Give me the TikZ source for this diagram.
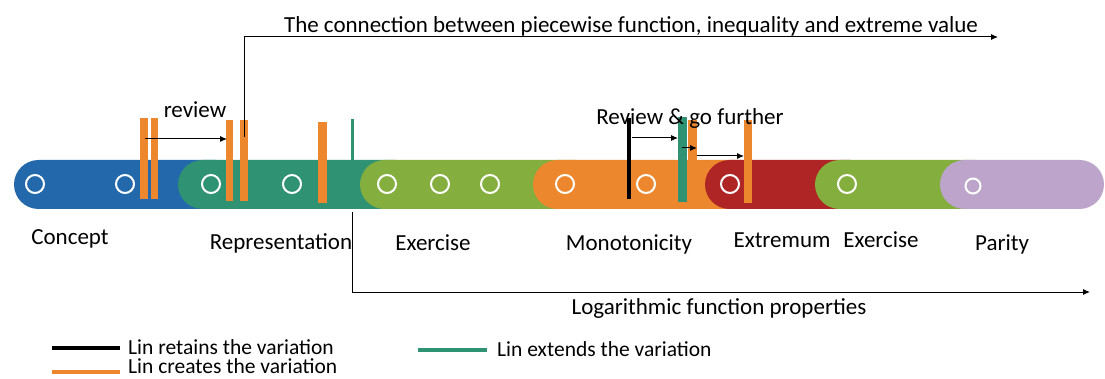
\documentclass[tikz,border=0pt]{standalone}
\usepackage{fontspec}
\setmainfont{Carlito}
\usetikzlibrary{arrows.meta}
\definecolor{cblue}{RGB}{35,104,170}
\definecolor{cteal}{RGB}{46,146,115}
\definecolor{cgreen}{RGB}{132,174,62}
\definecolor{corange}{RGB}{237,135,46}
\definecolor{cred}{RGB}{175,36,36}
\definecolor{cpurple}{RGB}{188,164,202}
\tikzset{
  pill/.style={rounded corners=24.5pt},
  dot/.style={circle, draw=white, line width=2pt, minimum size=18pt, inner sep=0pt},
  lab/.style={font=\fontsize{23}{26}\selectfont, inner sep=0pt},
  leg/.style={font=\fontsize{21.5}{24}\selectfont, inner sep=0pt, anchor=west},
  obar/.style={fill=corange},
  arr/.style={-{Latex[length=7pt,width=6pt]}, line width=1pt},
  link/.style={line width=1pt},
}
\begin{document}
\begin{tikzpicture}[x=1pt,y=-1pt]
\useasboundingbox (0,0) rectangle (1105,379);
% pills
\fill[pill,cblue]   (14,160) rectangle (240,209);
\fill[pill,cteal]   (178,160) rectangle (420,209);
\fill[pill,cgreen]  (360,160) rectangle (600,209);
\fill[pill,corange] (533,160) rectangle (765,209);
\fill[pill,cred]    (705,160) rectangle (875,209);
\fill[pill,cgreen]  (815,160) rectangle (1000,209);
\fill[pill,cpurple] (940,160) rectangle (1104,209);
% circles
\foreach \n/\x in {c1/35,c2/125,c3/211,c4/292,c5/387,c6/440,c7/490,c8/565,c9/646,c10/730,c11/847}
  \node[dot] (\n) at (\x,184) {};
\node[dot, minimum size=15pt] (c12) at (973,186) {};
% bars
\fill[obar] (140,118) rectangle (148,199);
\fill[obar] (151,118) rectangle (158,199);
\fill[obar] (226,120) rectangle (233,201);
\fill[obar] (240,120) rectangle (248,201);
\fill[obar] (318,122) rectangle (327,203);
\fill[cteal] (350.5,119) rectangle (353.5,165);
\fill[black] (626.5,118) rectangle (630.5,199);
\fill[cteal] (678,117) rectangle (687,202);
\fill[obar] (688,120) rectangle (697,165);
\fill[obar] (744,120) rectangle (752,203);
% top connection arrow
\coordinate (t0) at (244,137);
\coordinate (t1) at (244,37);
\coordinate (t2) at (998,37);
\draw[link] (t0) -- (t1);
\draw[arr] (t1) -- (t2);
\node[lab] (ttop) at (631,26) {The connection between piecewise function, inequality and extreme value};
% bottom arrow
\coordinate (b0) at (352,212);
\coordinate (b1) at (352,292);
\coordinate (b2) at (1090,292);
\draw[link] (b0) -- (b1);
\draw[arr] (b1) -- (b2);
\node[lab] (tbot) at (719,308) {Logarithmic function properties};
% review arrows
\coordinate (r0) at (145,139);
\coordinate (r1) at (227,139);
\draw[arr] (r0) -- (r1);
\node[lab] (trev) at (195,110) {review};
\coordinate (g0) at (632,138);
\coordinate (g1) at (678,138);
\draw[arr] (g0) -- (g1);
\coordinate (g2) at (682,148);
\coordinate (g3) at (697,148);
\draw[arr] (g2) -- (g3);
\coordinate (g4) at (697,156);
\coordinate (g5) at (744,156);
\draw[arr] (g4) -- (g5);
\node[lab] (tgo) at (690,118) {Review \& go further};
% labels
\node[lab] (l1) at (70,239) {Concept};
\node[lab] (l2) at (281,243) {Representation};
\node[lab] (l3) at (433,243) {Exercise};
\node[lab] (l4) at (629,244) {Monotonicity};
\node[lab] (l5) at (782,240) {Extremum};
\node[lab] (l6) at (881,240) {Exercise};
\node[lab] (l7) at (1002,244) {Parity};
% legend
\coordinate (k1a) at (52,348); \coordinate (k1b) at (120,348);
\draw[line width=4pt, black] (k1a) -- (k1b);
\node[leg] (k1) at (128,347) {Lin retains the variation};
\coordinate (k2a) at (52,372); \coordinate (k2b) at (120,372);
\draw[line width=4pt, corange] (k2a) -- (k2b);
\node[leg] (k2) at (128,366.5) {Lin creates the variation};
\coordinate (k3a) at (418,350); \coordinate (k3b) at (487,350);
\draw[line width=4pt, cteal] (k3a) -- (k3b);
\node[leg] (k3) at (497,349) {Lin extends the variation};
\end{tikzpicture}
\end{document}
